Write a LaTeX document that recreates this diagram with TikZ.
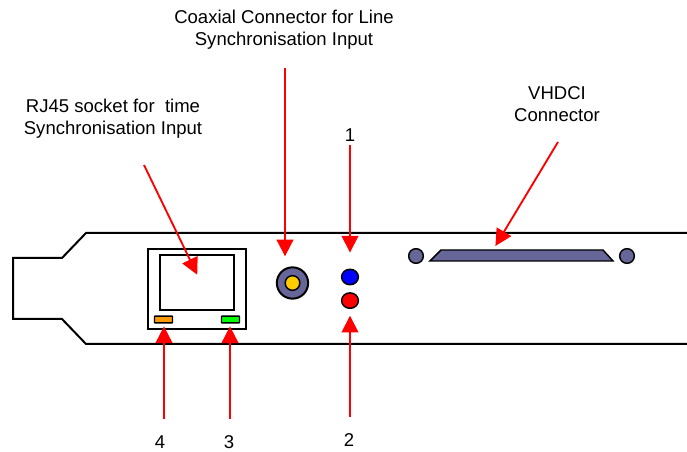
\documentclass[tikz,border=0pt]{standalone}
\usepackage{fontspec}
\setmainfont{Liberation Sans}
\usetikzlibrary{%
  arrows.meta, shapes.geometric, positioning
}
\definecolor{slate}{HTML}{666699}
\definecolor{coaxpin}{HTML}{FFCC00}
\definecolor{ledorange}{HTML}{FF9900}
\definecolor{ledgreen}{HTML}{00FF00}
\tikzstyle{lbl} = [%
  align=center,
  inner sep=0pt,
  font=\fontsize{13.9}{16.5}\selectfont
]
\tikzstyle{port} = [%
  rectangle,
  draw=black,
  line width=1.5pt,
  inner sep=0pt,
  fill=white
]
\tikzstyle{led} = [%
  rectangle,
  draw=black,
  line width=1.1pt,
  rounded corners=0.5pt,
  minimum width=13.5pt,
  minimum height=5.2pt,
  inner sep=0pt
]
\tikzstyle{dot} = [%
  ellipse,
  draw=black,
  line width=1.1pt,
  minimum width=12.6pt,
  minimum height=11.6pt,
  inner sep=0pt
]
\tikzstyle{screw} = [%
  circle,
  draw=black,
  line width=1.1pt,
  fill=slate,
  minimum size=11pt,
  inner sep=0pt
]

\begin{document}
\begin{tikzpicture}[%
  x=0.75pt,
  y=-0.75pt,
  pointer/.style={%
    draw=red,
    line width=1.4pt,
    -{Triangle[length=12.5pt,width=12.5pt]}
  }
]
  \useasboundingbox (0,0) rectangle (687,452);

  % Bracket
  \draw[line width=1.5pt,line join=miter]
    (687,233) -- (86,233) -- (62,258) -- (13,258) -- (13,319)
    -- (62,319) -- (86,344) -- (687,344);

  % Nodes
  \node[port,minimum width=73.5pt,minimum height=60pt] (RJ) at (197,289) {};
  \node[port,minimum width=55pt,minimum height=41.5pt] (Socket) at (197,282.5) {};
  \node[led,fill=ledorange] (Led4) at (163.5,319.5) {};
  \node[led,fill=ledgreen] (Led3) at (230.5,319.5) {};
  \node[circle,draw=black,line width=1.5pt,fill=slate,minimum size=23.5pt,inner sep=0pt] (Coax) at (292.5,283) {};
  \node[circle,draw=black,line width=1.1pt,fill=coaxpin,minimum size=11pt,inner sep=0pt] (Pin) at (292.5,283) {};
  \node[dot,fill=blue] (Blue) at (350,277) {};
  \node[dot,fill=red,below=5pt of Blue] (Red) {};
  \node[screw] (ScrewL) at (416,256) {};
  \node[screw] (ScrewR) at (627,256) {};
  \draw[line width=1.1pt,fill=slate] (430,261) -- (441,250) -- (603,250) -- (613,261) -- cycle;
  \coordinate (Vhdci) at (493,250);

  % Labels
  \node[lbl] (T5) at (284,30) {Coaxial Connector for Line\\Synchronisation Input};
  \node[lbl] (T6) at (113,119) {RJ45 socket for\ \ time\\Synchronisation Input};
  \node[lbl] (T7) at (557,104) {VHDCI\\Connector};
  \node[lbl] (T1) at (350,135) {1};
  \node[lbl] (T2) at (349,440) {2};
  \node[lbl] (T3) at (229,442) {3};
  \node[lbl] (T4) at (160,442) {4};

  % Pointer tails
  \coordinate (S6) at (144,165);
  \coordinate (S7) at (558,142);
  \coordinate (S5) at (285,68);
  \coordinate (S1) at (350,145);
  \coordinate (S2) at (350,417);
  \coordinate (S3) at (230,419);
  \coordinate (S4) at (164,419);

  % Pointers
  \draw[pointer,shorten >=6.5pt] (S6) -- ([xshift=3pt]Socket.center);
  \draw[pointer,shorten >=3.5pt] (S7) -- (Vhdci);
  \draw[pointer,shorten >=7.5pt] (S5) -- (S5 |- Coax.north);
  \draw[pointer,shorten >=12pt] (S1) -- (Blue.north);
  \draw[pointer,shorten >=5pt] (S2) -- (Red.south);
  \draw[pointer,shorten >=2pt] (S3) -- (S3 |- Led3.south);
  \draw[pointer,shorten >=2pt] (S4) -- (S4 |- Led4.south);
\end{tikzpicture}
\end{document}
